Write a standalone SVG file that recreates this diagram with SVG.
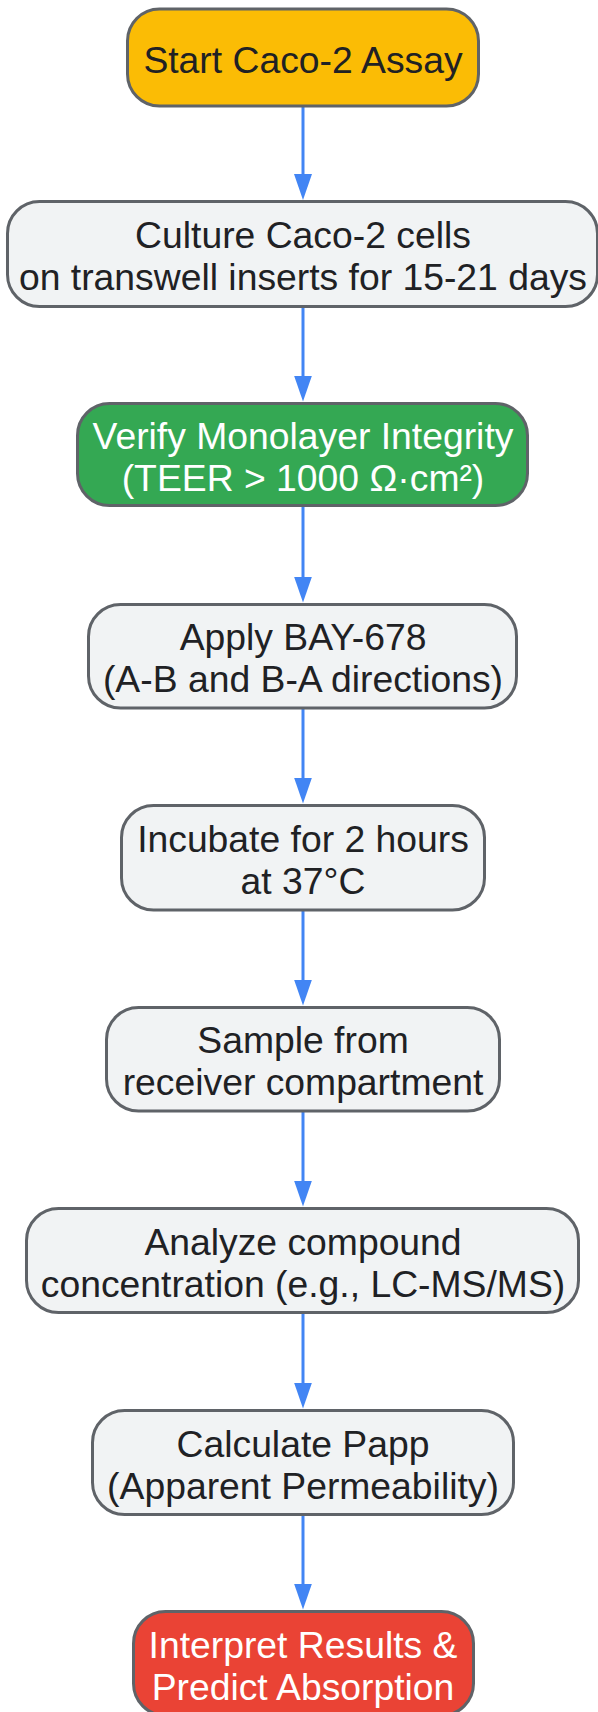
<svg xmlns="http://www.w3.org/2000/svg" width="598" height="1712" viewBox="0 0 598 1712">
<style>
.n{stroke:#5F6368;stroke-width:3}
.g{fill:#F1F3F4}
.t{font-family:"Liberation Sans",Arial,sans-serif;font-size:37.3px;text-anchor:middle;fill:#202124}
.w{fill:#FFFFFF}
.e{stroke:#4285F4;stroke-width:3;fill:none}
</style>
<defs>
<marker id="ah" viewBox="0 0 26 18" refX="16" refY="9" markerWidth="26" markerHeight="18" markerUnits="userSpaceOnUse" orient="auto">
<path d="M0,0 L26,9 L0,18 z" fill="#4285F4"/>
</marker>
</defs>
<g id="edges">
<line class="e" x1="303" y1="106" x2="303" y2="190" marker-end="url(#ah)"/>
<line class="e" x1="303" y1="307" x2="303" y2="391.5" marker-end="url(#ah)"/>
<line class="e" x1="303" y1="507" x2="303" y2="592.5" marker-end="url(#ah)"/>
<line class="e" x1="303" y1="709" x2="303" y2="793.5" marker-end="url(#ah)"/>
<line class="e" x1="303" y1="911" x2="303" y2="995.5" marker-end="url(#ah)"/>
<line class="e" x1="303" y1="1112" x2="303" y2="1196.5" marker-end="url(#ah)"/>
<line class="e" x1="303" y1="1313" x2="303" y2="1398.5" marker-end="url(#ah)"/>
<line class="e" x1="303" y1="1515" x2="303" y2="1599.5" marker-end="url(#ah)"/>
</g>
<g id="start">
<rect class="n" x="127.5" y="9" width="351" height="97" rx="32" fill="#FBBC05"/>
<text class="t" x="303" y="72.5">Start Caco-2 Assay</text>
</g>
<g id="culture">
<rect class="n g" x="7.5" y="201.5" width="590" height="105" rx="32"/>
<text class="t" x="303" y="248">Culture Caco-2 cells</text>
<text class="t" x="303" y="290">on transwell inserts for 15-21 days</text>
</g>
<g id="verify">
<rect class="n" x="77.5" y="403.5" width="450" height="102" rx="32" fill="#34A853"/>
<text class="t w" x="303" y="448.5">Verify Monolayer Integrity</text>
<text class="t w" x="303" y="490.5">(TEER &gt; 1000 Ω·cm²)</text>
</g>
<g id="apply">
<rect class="n g" x="88.5" y="604.5" width="428" height="103.5" rx="32"/>
<text class="t" x="303" y="650">Apply BAY-678</text>
<text class="t" x="303" y="692">(A-B and B-A directions)</text>
</g>
<g id="incubate">
<rect class="n g" x="121.5" y="805.5" width="363" height="104.5" rx="32"/>
<text class="t" x="303" y="852">Incubate for 2 hours</text>
<text class="t" x="303" y="894">at 37°C</text>
</g>
<g id="sample">
<rect class="n g" x="106.5" y="1007.5" width="393" height="103.5" rx="32"/>
<text class="t" x="303" y="1053">Sample from</text>
<text class="t" x="303" y="1095">receiver compartment</text>
</g>
<g id="analyze">
<rect class="n g" x="26.5" y="1208.5" width="552" height="104" rx="32"/>
<text class="t" x="303" y="1254.5">Analyze compound</text>
<text class="t" x="303" y="1296.5">concentration (e.g., LC-MS/MS)</text>
</g>
<g id="calculate">
<rect class="n g" x="92.5" y="1410.5" width="421" height="104" rx="32"/>
<text class="t" x="303" y="1456.5">Calculate Papp</text>
<text class="t" x="303" y="1498.5">(Apparent Permeability)</text>
</g>
<g id="interpret">
<rect class="n" x="133.5" y="1611.5" width="340" height="104" rx="32" fill="#EA4335"/>
<text class="t w" x="303" y="1657.5">Interpret Results &amp;</text>
<text class="t w" x="303" y="1699.5">Predict Absorption</text>
</g>
</svg>
